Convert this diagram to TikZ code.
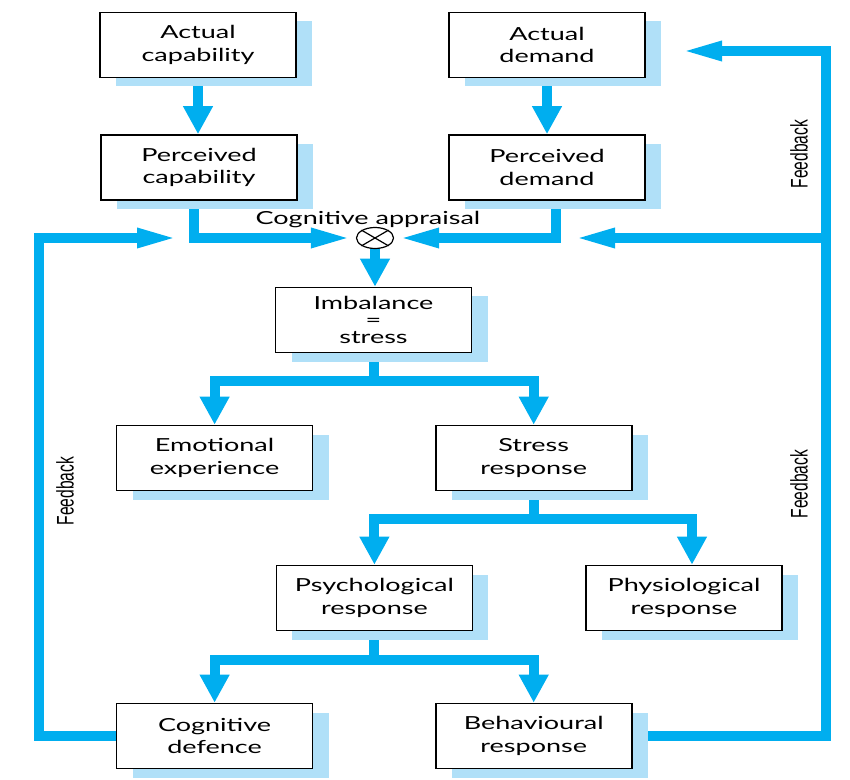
\documentclass[tikz,border=0pt]{standalone}
\usepackage{fontspec}
\usepackage{xcolor}
\usetikzlibrary{shapes.geometric, arrows.meta, shadows, backgrounds}
\newfontfamily\boxfont[FakeStretch=1.5]{Lato}
\newfontfamily\fbfont[FakeStretch=0.65]{Liberation Sans}
\definecolor{flowblue}{RGB}{0, 174, 239}
\definecolor{shadowblue}{RGB}{176, 224, 248}

\begin{document}
\begin{tikzpicture}[
  x=0.5pt, y=-0.5pt,
  font=\boxfont\fontsize{9}{11.2}\selectfont,
  stage/.style={
    draw=black,
    line width=0.8pt,
    fill=white,
    minimum width=98pt,
    minimum height=32.5pt,
    align=center,
    general shadow={fill=shadowblue, shadow xshift=8pt, shadow yshift=-4.5pt},
  },
  flow/.style={
    draw=flowblue,
    line width=5pt,
  },
  vhead/.style={-{Triangle[length=14pt, width=14pt]}},
  hhead/.style={-{Triangle[length=22.5pt, width=8.5pt]}},
  feedback/.style={
    font=\fbfont\fontsize{12}{12}\selectfont,
    rotate=90,
  }
]
  \useasboundingbox (0,0) rectangle (850,780);

  % === CAPABILITY (left) and DEMAND (right) ===
  \node[stage] (a-cap) at (198, 45) {Actual\\ capability};
  \node[stage] (p-cap) at (199, 167.5) {Perceived\\ capability};
  \node[stage] (a-dem) at (547, 45) {Actual\\ demand};
  \node[stage] (p-dem) at (547, 167.5) {Perceived\\ demand};

  % Comparator
  \node[draw=black, line width=0.6pt, fill=white, ellipse, minimum width=18.5pt, minimum height=10.5pt, inner sep=0pt] (app) at (375, 238) {};
  \draw[line width=0.6pt] (app.north east) -- (app.south west) (app.north west) -- (app.south east);
  \node[anchor=base] (app-l) at (368, 225) {Cognitive appraisal};

  % === STRESS and its responses ===
  \node[stage, font=\boxfont\fontsize{9}{8.5}\selectfont] (imb) at (373.5, 320) {Imbalance\\ =\\ stress};
  \node[stage] (emo) at (214.6, 458) {Emotional\\ experience};
  \node[stage] (s-resp) at (533.7, 458) {Stress\\ response};
  \node[stage] (psy) at (374.4, 598) {Psychological\\ response};
  \node[stage] (phy) at (684, 598) {Physiological\\ response};
  \node[stage] (c-def) at (214.6, 736) {Cognitive\\ defence};
  \node[stage] (b-resp) at (533.7, 736) {Behavioural\\ response};

  % Free ends of the feedback arrows
  \coordinate (l-in) at (182, 238);
  \coordinate (r-top) at (677, 51);
  \coordinate (r-join) at (826, 238);
  \coordinate (r-in) at (570, 238);

  \node[feedback] (fb-l) at (65, 491) {Feedback};
  \node[feedback] (fb-r1) at (799, 154) {Feedback};
  \node[feedback] (fb-r2) at (799, 484) {Feedback};

  % Connectors, behind the boxes and their shadows
  \begin{scope}[on background layer]
    \draw[flow, vhead] (a-cap.south) -- (a-cap.south |- p-cap.north);
    \draw[flow, vhead] (a-dem.south) -- (p-dem.north);
    \draw[flow, hhead] ([xshift=-2.5pt]p-cap.south) |- (app.west);
    \draw[flow, hhead] ([xshift=4.5pt]p-dem.south) |- (app.east);
    \draw[flow, vhead] (app.south) -- (app.south |- imb.north);

    \draw[flow, vhead] (imb.south) -- ++(0,28) -| (emo.north);
    \draw[flow, vhead] (imb.south) -- ++(0,28) -| (s-resp.north);
    \draw[flow, vhead] (s-resp.south) -- ++(0,28) -| (psy.north);
    \draw[flow, vhead] (s-resp.south) -- ++(0,28) -| ([xshift=4pt]phy.north);
    \draw[flow, vhead] (psy.south) -- ++(0,29) -| (c-def.north);
    \draw[flow, vhead] (psy.south) -- ++(0,29) -| (b-resp.north);

    % Feedback loops
    \draw[flow, hhead] (c-def.west) -- ++(-77,0) |- (l-in);
    \draw[flow, hhead] (b-resp.east) -| (r-join) |- (r-top);
    \draw[flow, hhead] (r-join) -- (r-in);
  \end{scope}

\end{tikzpicture}
\end{document}
